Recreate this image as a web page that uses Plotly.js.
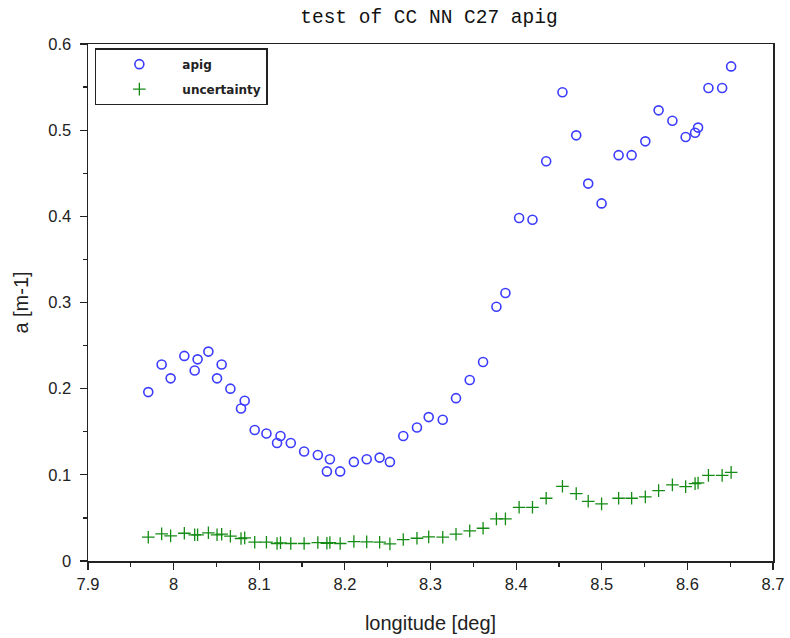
<!DOCTYPE html>
<html>
<head>
<meta charset="utf-8">
<script src="https://cdn.plot.ly/plotly-3.0.1.min.js"></script>
<style>html,body{margin:0;padding:0;background:#fff;}#chart{width:790px;height:638px;}</style>
</head>
<body>
<div id="chart"></div>
<script>
const longitude = [7.9704, 7.9860, 7.9965, 8.0125, 8.0246, 8.0280, 8.0406, 8.0507, 8.0561, 8.0663,
  8.0787, 8.0830, 8.0947, 8.1084, 8.1208, 8.1248, 8.1368, 8.1524, 8.1684, 8.1790,
  8.1825, 8.1945, 8.2105, 8.2255, 8.2406, 8.2526, 8.2682, 8.2842, 8.2979, 8.3143,
  8.3298, 8.3458, 8.3614, 8.3770, 8.3875, 8.4035, 8.4191, 8.4351, 8.4541, 8.4702,
  8.4842, 8.4998, 8.5197, 8.5349, 8.5509, 8.5664, 8.5825, 8.5980, 8.6090, 8.6125,
  8.6246, 8.6406, 8.6511];
const apig = [0.196, 0.228, 0.212, 0.238, 0.221, 0.234, 0.243, 0.212, 0.228, 0.200,
  0.177, 0.186, 0.152, 0.148, 0.137, 0.145, 0.137, 0.127, 0.123, 0.104,
  0.118, 0.104, 0.115, 0.118, 0.120, 0.115, 0.145, 0.155, 0.167, 0.164,
  0.189, 0.210, 0.231, 0.295, 0.311, 0.398, 0.396, 0.464, 0.544, 0.494,
  0.438, 0.415, 0.471, 0.471, 0.487, 0.523, 0.511, 0.492, 0.497, 0.503,
  0.549, 0.549, 0.574];
const uncertainty = [0.0276, 0.0315, 0.0292, 0.0322, 0.0304, 0.0304, 0.0327, 0.0304, 0.0311, 0.0288,
  0.0261, 0.0268, 0.0218, 0.0218, 0.0203, 0.0211, 0.0203, 0.0203, 0.0214, 0.0206,
  0.0214, 0.0203, 0.0226, 0.0222, 0.0218, 0.0199, 0.0249, 0.0264, 0.0280, 0.0276,
  0.0311, 0.0350, 0.0380, 0.0489, 0.0489, 0.0623, 0.0623, 0.0728, 0.0867, 0.0782,
  0.0693, 0.0663, 0.0728, 0.0728, 0.0744, 0.0817, 0.0883, 0.0863, 0.0898, 0.0906,
  0.0994, 0.0994, 0.1029];
const xTickVals = [7.9, 8.0, 8.1, 8.2, 8.3, 8.4, 8.5, 8.6, 8.7];
const xTickText = ["7.9", "8", "8.1", "8.2", "8.3", "8.4", "8.5", "8.6", "8.7"];
const yTickVals = [0, 0.1, 0.2, 0.3, 0.4, 0.5, 0.6];
const yTickText = ["0", "0.1", "0.2", "0.3", "0.4", "0.5", "0.6"];

const traces = [
  {x: longitude, y: apig, name: 'apig', legendgroup: 'a', type: 'scatter', mode: 'markers',
   marker: {symbol: 'circle-open', size: 9, color: 'rgb(60,60,255)', line: {width: 1.6, color: 'rgb(60,60,255)'}}},
  {x: longitude, y: uncertainty, name: 'uncertainty', legendgroup: 'b', type: 'scatter', mode: 'markers',
   marker: {symbol: 'cross-thin-open', size: 9, color: 'rgb(20,140,20)', line: {width: 1.3, color: 'rgb(20,140,20)'}}}
];

const tickFont = {family: 'Liberation Sans, Arial, sans-serif', size: 16.5, color: '#222'};
const titleFont = {family: 'Liberation Sans, Arial, sans-serif', size: 20, color: '#222'};
const layout = {
  width: 790, height: 638,
  margin: {l: 88, r: 17, t: 44, b: 77},
  paper_bgcolor: '#fff', plot_bgcolor: '#fff',
  title: {text: 'test of CC NN C27 apig', x: 0.543, xref: 'container', xanchor: 'center', y: 0.975, yanchor: 'middle',
          font: {family: 'Liberation Mono, DejaVu Sans Mono, monospace', size: 19.5, color: '#111'}},
  xaxis: {range: [7.9, 8.7], tickvals: xTickVals, ticktext: xTickText, ticks: 'outside', ticklen: 7, tickwidth: 1.2,
          tickcolor: '#222', showline: true, linecolor: '#222', linewidth: 1.5, mirror: true, showgrid: false, zeroline: false,
          tickfont: tickFont, ticklabelstandoff: 1,
          minor: {dtick: 0.05, tick0: 7.9, ticks: 'outside', ticklen: 4, tickwidth: 1.2, tickcolor: '#222', showgrid: false},
          title: {text: 'longitude [deg]', font: titleFont, standoff: 23}},
  yaxis: {range: [0, 0.6], tickvals: yTickVals, ticktext: yTickText, ticks: 'outside', ticklen: 7, tickwidth: 1.2,
          tickcolor: '#222', showline: true, linecolor: '#222', linewidth: 1.5, mirror: true, showgrid: false, zeroline: false,
          tickfont: tickFont, ticklabelstandoff: 5,
          minor: {dtick: 0.05, tick0: 0, ticks: 'outside', ticklen: 4, tickwidth: 1.2, tickcolor: '#222', showgrid: false},
          title: {text: 'a [m-1]', font: titleFont, standoff: 14}},
  showlegend: true,
  legend: {x: 0.01, y: 0.992, xanchor: 'left', yanchor: 'top', bgcolor: '#fff', bordercolor: '#222', borderwidth: 1.5,
           font: {family: 'DejaVu Sans, sans-serif', size: 12, color: '#222', weight: 'bold'},
           itemwidth: 76, tracegroupgap: 6}
};
Plotly.newPlot('chart', traces, layout, {displayModeBar: false, staticPlot: true});
</script>
</body>
</html>
